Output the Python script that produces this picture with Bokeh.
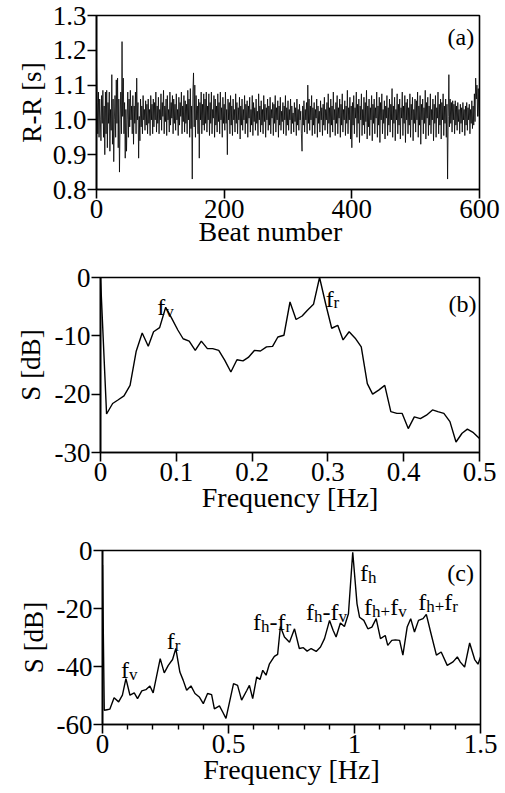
from bokeh.plotting import figure
from bokeh.models import Range1d, FixedTicker, Label, Title
from bokeh.layouts import column
from bokeh.embed import file_html
from bokeh.resources import INLINE

FONT = "Liberation Serif"

# ---------------- panel (a): R-R intervals ----------------
beat_ticks = [0, 200, 400, 600]
beat_tick_labels = ["0", "200", "400", "600"]
rr_ticks = [0.8, 0.9, 1.0, 1.1, 1.2, 1.3]
rr_tick_labels = ["0.8", "0.9", "1.0", "1.1", "1.2", "1.3"]
rr_ms = [
    1160, 1050, 960, 1080, 950, 1060, 1000, 940, 1070, 990,
    1085, 950, 1040, 900, 1080, 960, 1085, 920, 1050, 990,
    1080, 910, 1030, 970, 1130, 930, 1060, 880, 1000, 1070,
    950, 1115, 990, 1120, 920, 1060, 850, 1000, 1080, 960,
    1225, 1010, 1120, 960, 1050, 890, 1030, 910, 1000, 1080,
    950, 1060, 980, 1085, 1000, 1040, 960, 1070, 930, 1040,
    990, 1080, 960, 1120, 1000, 1050, 890, 1010, 940, 1060,
    980, 1040, 960, 1070, 1000, 1030, 970, 1055, 985, 1045,
    960, 1060, 990, 1030, 955, 1070, 1000, 1045, 960, 1060,
    980, 1050, 1000, 1080, 965, 1040, 990, 1065, 960, 1030,
    1000, 1075, 970, 1050, 1010, 1085, 960, 1040, 995, 1060,
    955, 1070, 1000, 1030, 965, 1080, 985, 1050, 1005, 1070,
    960, 1060, 990, 1045, 970, 1075, 1000, 1030, 955, 1065,
    985, 1050, 1010, 1080, 960, 1040, 995, 1070, 965, 1055,
    990, 1045, 960, 1085, 1000, 1060, 950, 1090, 975, 1040,
    830, 1080, 1135, 980, 1100, 950, 1070, 1000, 1040, 960,
    1060, 890, 1050, 1000, 1080, 960, 1045, 985, 1075, 970,
    1060, 990, 1080, 965, 1040, 1000, 1075, 955, 1050, 990,
    1080, 960, 1030, 1005, 1070, 950, 1060, 985, 1040, 965,
    1075, 995, 1050, 960, 1080, 1000, 1035, 950, 1065, 990,
    1045, 970, 1080, 990, 1030, 900, 1060, 1000, 1050, 960,
    1070, 985, 1040, 955, 1060, 1000, 1030, 965, 1075, 990,
    1050, 960, 1035, 1000, 1065, 945, 1040, 985, 1060, 970,
    1030, 1000, 1070, 960, 1045, 990, 1055, 950, 1040, 1005,
    1065, 965, 1030, 985, 1070, 955, 1050, 995, 1035, 970,
    1060, 990, 1025, 955, 1075, 1000, 1040, 965, 1055, 985,
    1030, 960, 1070, 995, 1045, 950, 1035, 1000, 1060, 970,
    1040, 985, 1065, 960, 1030, 1005, 1050, 955, 1045, 990,
    1070, 965, 1035, 1000, 1055, 950, 1040, 985, 1065, 970,
    1025, 995, 1050, 960, 1040, 1000, 1070, 955, 1035, 985,
    1055, 970, 1030, 1000, 1060, 960, 1040, 990, 1020, 965,
    1050, 995, 1035, 955, 1060, 985, 1030, 970, 1045, 1000,
    1025, 960, 910, 1040, 985, 1055, 965, 1030, 1000, 1050,
    960, 1100, 990, 1060, 970, 1040, 1000, 1070, 955, 1035,
    985, 1050, 960, 1030, 1005, 1060, 950, 1040, 990, 1025,
    965, 1055, 1000, 1035, 955, 1045, 985, 1065, 970, 1030,
    1000, 1050, 960, 1075, 990, 1035, 950, 1060, 985, 1040,
    965, 1080, 1000, 1030, 955, 1050, 990, 1070, 960, 1035,
    1005, 1060, 950, 1045, 985, 1075, 965, 1030, 1000, 1055,
    955, 1040, 990, 1085, 960, 1035, 1000, 1065, 945, 1040,
    920, 1050, 985, 1070, 960, 1035, 1005, 1080, 950, 1045,
    990, 1060, 935, 1040, 1000, 1075, 955, 1030, 985, 1065,
    960, 1050, 995, 1085, 945, 1040, 980, 1060, 955, 1035,
    1000, 1070, 940, 1045, 990, 1060, 960, 1035, 1005, 1080,
    950, 1040, 985, 1065, 935, 1050, 1000, 1075, 960, 1030,
    990, 1055, 945, 1040, 1005, 1070, 955, 1035, 985, 1060,
    965, 1045, 1000, 1090, 950, 1040, 990, 1065, 940, 1030,
    1000, 1075, 960, 1045, 985, 1060, 945, 1035, 1005, 1080,
    955, 1040, 990, 1070, 935, 1050, 1000, 1060, 960, 1035,
    985, 1075, 950, 1045, 1000, 1065, 940, 1030, 990, 1060,
    965, 1055, 1000, 1080, 950, 1040, 985, 1070, 930, 1045,
    1000, 1060, 960, 1035, 990, 1085, 945, 1050, 1005, 1065,
    955, 1040, 985, 1075, 960, 1030, 1000, 1060, 940, 1045,
    990, 1070, 950, 1035, 1005, 1080, 960, 1045, 985, 1060,
    945, 1050, 1000, 1075, 955, 1040, 990, 1060, 950, 1045,
    830, 1010, 1130, 980, 1060, 990, 1050, 965, 1055, 1000,
    1045, 960, 1055, 985, 1040, 970, 1050, 995, 1030, 960,
    1045, 990, 1035, 965, 1050, 1000, 1030, 955, 1040, 985,
    1050, 970, 1035, 1000, 1045, 960, 1030, 990, 1055, 975,
    1040, 985, 1075, 995, 1120, 1060, 1100, 1010, 1090, 1010,
]
beat_number = list(range(len(rr_ms)))
rr_s = [v / 1000.0 for v in rr_ms]

# ---------------- panel (b): spectrum of R-R ----------------
freq_b = [0.0, 0.008, 0.016, 0.023, 0.031, 0.039, 0.047, 0.055, 0.063, 0.070,
          0.078, 0.086, 0.094, 0.102, 0.109, 0.117, 0.125, 0.133, 0.141, 0.148,
          0.156, 0.164, 0.172, 0.180, 0.188, 0.195, 0.203, 0.211, 0.219, 0.227,
          0.234, 0.242, 0.250, 0.258, 0.266, 0.273, 0.281, 0.289, 0.297, 0.305,
          0.313, 0.320, 0.328, 0.336, 0.344, 0.352, 0.359, 0.367, 0.375, 0.383,
          0.391, 0.398, 0.406, 0.414, 0.422, 0.430, 0.438, 0.445, 0.453, 0.461,
          0.469, 0.477, 0.484, 0.492, 0.500]
spec_b = [0.0, -23.4, -21.6, -21.0, -20.3, -18.5, -12.7, -9.5, -11.8, -9.3,
          -8.6, -5.1, -7.0, -9.0, -10.5, -10.9, -12.5, -10.9, -12.2, -12.2,
          -12.5, -14.2, -16.2, -14.1, -14.3, -13.7, -12.5, -12.6, -11.9, -11.8,
          -10.2, -9.9, -4.2, -7.2, -6.6, -5.6, -4.6, 0.0, -4.5, -8.7,
          -8.2, -10.7, -9.3, -10.4, -11.9, -18.2, -20.0, -19.3, -18.5, -23.0,
          -23.3, -23.3, -25.9, -23.9, -24.2, -23.6, -22.7, -23.0, -23.3, -24.7,
          -28.2, -26.7, -26.0, -26.6, -27.6]
fb_ticks = [0, 0.1, 0.2, 0.3, 0.4, 0.5]
fb_tick_labels = ["0", "0.1", "0.2", "0.3", "0.4", "0.5"]
sb_ticks = [-30, -20, -10, 0]
sb_tick_labels = ["-30", "-20", "-10", "0"]

# ---------------- panel (c): spectrum of blood flow ----------------
freq_c = [0.0, 0.007, 0.018, 0.029, 0.046, 0.064, 0.079, 0.093, 0.109, 0.126,
          0.139, 0.156, 0.172, 0.188, 0.201, 0.229, 0.245, 0.261, 0.278, 0.291,
          0.307, 0.320, 0.334, 0.351, 0.367, 0.384, 0.400, 0.417, 0.433, 0.444,
          0.464, 0.477, 0.490, 0.520, 0.536, 0.552, 0.573, 0.583, 0.596, 0.612,
          0.625, 0.636, 0.649, 0.662, 0.682, 0.695, 0.706, 0.722, 0.742, 0.762,
          0.781, 0.797, 0.812, 0.828, 0.848, 0.865, 0.881, 0.901, 0.915, 0.927,
          0.944, 0.960, 0.976, 0.993, 1.010, 1.020, 1.037, 1.053, 1.069, 1.086,
          1.103, 1.122, 1.132, 1.148, 1.162, 1.179, 1.192, 1.209, 1.223, 1.238,
          1.254, 1.272, 1.285, 1.302, 1.325, 1.344, 1.368, 1.391, 1.408, 1.420,
          1.437, 1.457, 1.477, 1.490, 1.500]
spec_c = [-5.0, -55.1, -54.9, -54.7, -50.8, -52.2, -49.9, -44.2, -49.9, -49.1,
          -51.1, -48.4, -48.0, -46.7, -49.1, -37.3, -42.2, -39.6, -37.6, -33.8,
          -41.9, -44.7, -48.2, -46.7, -49.3, -50.5, -52.8, -49.3, -49.7, -54.6,
          -53.6, -55.7, -57.9, -45.9, -46.5, -51.6, -48.2, -46.5, -51.1, -43.6,
          -44.5, -41.3, -43.0, -39.2, -36.5, -35.8, -26.2, -29.8, -31.6, -27.0,
          -33.8, -33.5, -34.7, -33.8, -34.8, -33.3, -30.4, -24.1, -27.5, -29.8,
          -25.0, -26.2, -21.8, -0.6, -18.4, -23.0, -24.1, -27.0, -26.4, -23.5,
          -30.4, -29.3, -32.7, -31.0, -30.8, -31.0, -36.1, -26.4, -23.5, -28.1,
          -24.1, -23.5, -22.0, -28.1, -36.1, -35.0, -39.6, -38.4, -36.7, -38.5,
          -40.2, -31.9, -37.6, -39.2, -36.7]
fc_ticks = [0, 0.5, 1, 1.5]
fc_tick_labels = ["0", "0.5", "1", "1.5"]
fc_minor_ticks = [0.1, 0.2, 0.3, 0.4, 0.6, 0.7, 0.8, 0.9, 1.1, 1.2, 1.3, 1.4]
sc_ticks = [-60, -40, -20, 0]
sc_tick_labels = ["-60", "-40", "-20", "0"]

# ---------------- helpers ----------------
GLYPH_W = {"f": 0.333, "h": 0.5, "v": 0.5, "r": 0.333, "-": 0.333, "+": 0.564,
           "(": 0.333, ")": 0.333, "a": 0.444, "b": 0.5, "c": 0.444}


def add_text(p, x, y, segs, size=24, sub=17, drop=4):
    off = 0.0
    for s, is_sub in segs:
        fs = sub if is_sub else size
        p.add_layout(Label(x=x, y=y, x_offset=off, y_offset=-drop if is_sub else 0,
                           text=s, text_font=FONT, text_font_size=f"{fs}px",
                           text_color="black", text_baseline="alphabetic",
                           text_align="left"))
        off += sum(GLYPH_W.get(c, 0.5) for c in s) * fs


def make_fig(height, xr, yr, borders):
    left, right, top, bottom = borders
    p = figure(width=505, height=height, x_range=Range1d(*xr), y_range=Range1d(*yr),
               output_backend="svg", toolbar_location=None,
               min_border_left=left, min_border_right=right,
               min_border_top=top, min_border_bottom=bottom)
    p.grid.visible = False
    p.background_fill_color = "white"
    p.border_fill_color = "white"
    p.outline_line_color = "black"
    p.outline_line_width = 1.6
    p.outline_line_alpha = 1.0
    return p


def style_axes(p, xt, xl, yt, yl, xlabel, ylabel, xminor=None,
               xlab_standoff=-7, ylab_standoff=4):
    for ax in (p.xaxis[0], p.yaxis[0]):
        ax.axis_line_color = "black"
        ax.axis_line_width = 1.6
        ax.major_tick_line_color = "black"
        ax.major_tick_line_width = 1.6
        ax.major_tick_in = 0
        ax.major_tick_out = 9
        ax.minor_tick_line_color = "black"
        ax.minor_tick_line_width = 1.4
        ax.minor_tick_in = 0
        ax.minor_tick_out = 5
        ax.major_label_text_font = FONT
        ax.major_label_text_font_size = "27px"
        ax.major_label_text_color = "black"
        ax.major_label_standoff = 1
        ax.axis_label_text_font = FONT
        ax.axis_label_text_font_style = "normal"
        ax.axis_label_text_color = "black"
    p.xaxis[0].ticker = FixedTicker(ticks=xt, minor_ticks=xminor or [])
    p.xaxis[0].major_label_overrides = dict(zip(xt, xl))
    p.yaxis[0].ticker = FixedTicker(ticks=yt, minor_ticks=[])
    p.yaxis[0].major_label_overrides = dict(zip(yt, yl))
    if xlabel is not None:
        p.xaxis[0].axis_label = xlabel
        p.xaxis[0].axis_label_text_font_size = "28px"
        p.xaxis[0].axis_label_standoff = xlab_standoff
    p.yaxis[0].axis_label = ylabel
    p.yaxis[0].axis_label_text_font_size = "27px"
    p.yaxis[0].axis_label_standoff = ylab_standoff


# ---------------- panel (a) ----------------
pa = make_fig(250, (0, 600), (0.8, 1.3), (96, 26, 15, 61))
pa.line(beat_number, rr_s, line_color="black", line_width=0.8)
style_axes(pa, beat_ticks, beat_tick_labels, rr_ticks, rr_tick_labels,
           None, "R-R [s]", ylab_standoff=3)
pa.add_layout(Title(text="Beat number", align="left", offset=102, standoff=-13,
                    text_font=FONT, text_font_size="28px", text_font_style="normal",
                    text_color="black"), "below")
add_text(pa, 550, 1.237, [("(a)", False)])

# ---------------- panel (b) ----------------
pb = make_fig(270, (0, 0.5), (-30, 0), (100, 26, 27, 68))
pb.line(freq_b, spec_b, line_color="black", line_width=1.4)
style_axes(pb, fb_ticks, fb_tick_labels, sb_ticks, sb_tick_labels,
           "Frequency [Hz]", "S [dB]", xlab_standoff=-2, ylab_standoff=6)
add_text(pb, 0.075, -5.1, [("f", False), ("v", True)])
add_text(pb, 0.297, -3.6, [("f", False), ("r", True)])
add_text(pb, 0.459, -4.6, [("(b)", False)])

# ---------------- panel (c) ----------------
pc = make_fig(273, (0, 1.5), (-60, 0), (102, 25, 30, 69))
pc.line(freq_c, spec_c, line_color="black", line_width=1.4)
style_axes(pc, fc_ticks, fc_tick_labels, sc_ticks, sc_tick_labels,
           "Frequency [Hz]", "S [dB]", xminor=fc_minor_ticks, xlab_standoff=-2,
           ylab_standoff=5)
add_text(pc, 0.073, -41.3, [("f", False), ("v", True)])
add_text(pc, 0.255, -31.3, [("f", False), ("r", True)])
add_text(pc, 0.597, -24.8, [("f", False), ("h", True), ("-", False), ("f", False), ("r", True)])
add_text(pc, 0.808, -21.3, [("f", False), ("h", True), ("-", False), ("f", False), ("v", True)])
add_text(pc, 1.022, -7.9, [("f", False), ("h", True)])
add_text(pc, 1.038, -19.6, [("f", False), ("h", True), ("+", True), ("f", False), ("v", True)])
add_text(pc, 1.253, -17.9, [("f", False), ("h", True), ("+", True), ("f", False), ("r", True)])
add_text(pc, 1.368, -7.6, [("(c)", False)])

layout = column(column(pa), column(pb), column(pc), spacing=0)
open("out.html", "w").write(file_html(layout, INLINE))
